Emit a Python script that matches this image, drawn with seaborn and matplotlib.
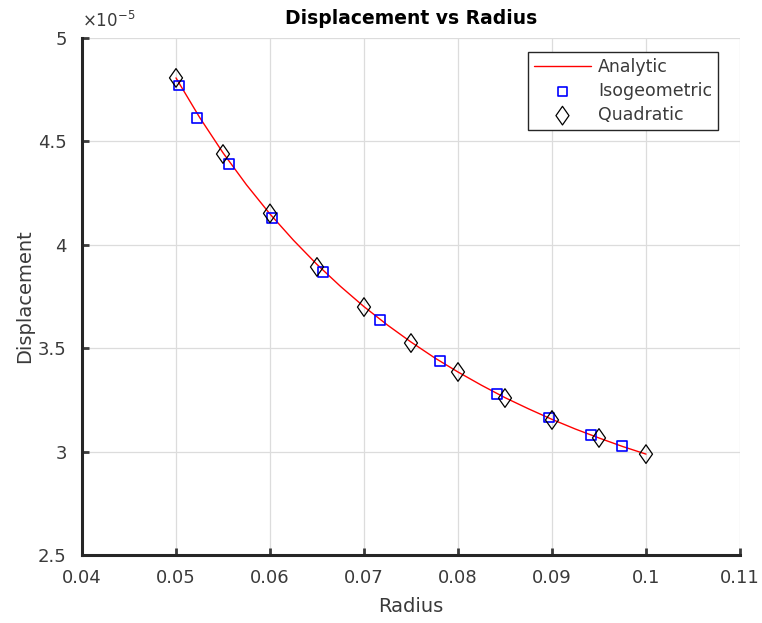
import matplotlib
matplotlib.use("Agg")
import matplotlib.pyplot as plt
from matplotlib.ticker import FuncFormatter, FixedLocator
from matplotlib.path import Path
import seaborn as sns
import pandas as pd

# Displacement values are in units of 1e-5
analytic_r = [0.05, 0.0525, 0.055, 0.0575, 0.06, 0.0625, 0.065, 0.0675, 0.07,
              0.0725, 0.075, 0.0775, 0.08, 0.0825, 0.085, 0.0875, 0.09, 0.0925,
              0.095, 0.0975, 0.1]
analytic_u = [4.807, 4.617, 4.445, 4.290, 4.149, 4.022, 3.905, 3.799, 3.701,
              3.612, 3.530, 3.454, 3.385, 3.321, 3.261, 3.207, 3.156, 3.109,
              3.066, 3.025, 2.988]

iso_r = [0.05032, 0.05224, 0.05564, 0.06021, 0.06564, 0.07170, 0.07809,
         0.08415, 0.08968, 0.09415, 0.09745]
iso_u = [4.770, 4.613, 4.390, 4.128, 3.868, 3.636, 3.438, 3.279, 3.165,
         3.080, 3.027]

quad_r = [0.05, 0.055, 0.06, 0.065, 0.07, 0.075, 0.08, 0.085, 0.09, 0.095, 0.1]
quad_u = [4.807, 4.439, 4.152, 3.893, 3.699, 3.525, 3.385, 3.259, 3.153,
          3.066, 2.988]

x_ticks = [0.04, 0.05, 0.06, 0.07, 0.08, 0.09, 0.1, 0.11]
y_ticks = [2.5, 3, 3.5, 4, 4.5, 5]

sns.set_theme(style="whitegrid")
plt.rcParams["font.family"] = ["DejaVu Sans"]

text_col = "#262626"
label_col = "#3a3a3a"
fig = plt.figure(figsize=(7.62, 6.23), dpi=100)
ax = fig.add_axes([0.1076, 0.1091, 0.8635, 0.8299])

analytic = pd.DataFrame({"r": analytic_r, "u": analytic_u})
iso = pd.DataFrame({"r": iso_r, "u": iso_u})
quad = pd.DataFrame({"r": quad_r, "u": quad_u})

# diamond a little wider than matplotlib's thin diamond
diamond = Path([(0, 1), (0.7, 0), (0, -1), (-0.7, 0), (0, 1)],
               [Path.MOVETO, Path.LINETO, Path.LINETO, Path.LINETO,
                Path.CLOSEPOLY])

sns.lineplot(data=analytic, x="r", y="u", ax=ax, color="red", linewidth=1.0,
             label="Analytic", sort=False, zorder=2)
sns.scatterplot(data=iso, x="r", y="u", ax=ax, marker="s", s=50,
                facecolor="none", edgecolor="blue", linewidth=1.2,
                label="Isogeometric", zorder=3)
sns.scatterplot(data=quad, x="r", y="u", ax=ax, marker=diamond, s=180,
                facecolor="none", edgecolor="black", linewidth=0.9,
                label="Quadratic", zorder=4)

ax.set_xlim(0.04, 0.11)
ax.set_ylim(2.5, 5)
ax.xaxis.set_major_locator(FixedLocator(x_ticks))
ax.yaxis.set_major_locator(FixedLocator(y_ticks))
fmt = FuncFormatter(lambda v, p: f"{v:g}")
ax.xaxis.set_major_formatter(fmt)
ax.yaxis.set_major_formatter(fmt)

ax.set_facecolor("white")
ax.grid(True, color="#dcdcdc", linewidth=0.9)
for side in ("top", "right"):
    ax.spines[side].set_visible(False)
for side in ("left", "bottom"):
    ax.spines[side].set_visible(True)
    ax.spines[side].set_color(text_col)
    ax.spines[side].set_linewidth(2.2)
ax.tick_params(axis="both", which="major", direction="in", length=5, width=2,
               colors=label_col, labelsize=13,
               bottom=True, left=True, top=False, right=False)
ax.tick_params(axis="x", pad=10)
ax.tick_params(axis="y", pad=11)

ax.set_xlabel("Radius", fontsize=14, color=label_col, labelpad=7)
ax.set_ylabel("Displacement", fontsize=14, color=label_col, labelpad=3)
ax.set_title("Displacement vs Radius", fontsize=13.5, fontweight="bold",
             color="black", pad=10)
ax.text(0.0, 1.014, r"$\times10^{-5}$", transform=ax.transAxes,
        fontsize=12, color=label_col, ha="left", va="bottom")

leg = ax.legend(loc="upper right", bbox_to_anchor=(0.967, 0.973),
                borderaxespad=0, fontsize=12.5, frameon=True, fancybox=False,
                handlelength=3.3, handletextpad=0.4, borderpad=0.35,
                labelspacing=0.35)
leg.get_frame().set_edgecolor(text_col)
leg.get_frame().set_linewidth(1.0)
leg.get_frame().set_alpha(1)
for t in leg.get_texts():
    t.set_color(label_col)

fig.savefig("out.png", dpi=100, facecolor="white")
